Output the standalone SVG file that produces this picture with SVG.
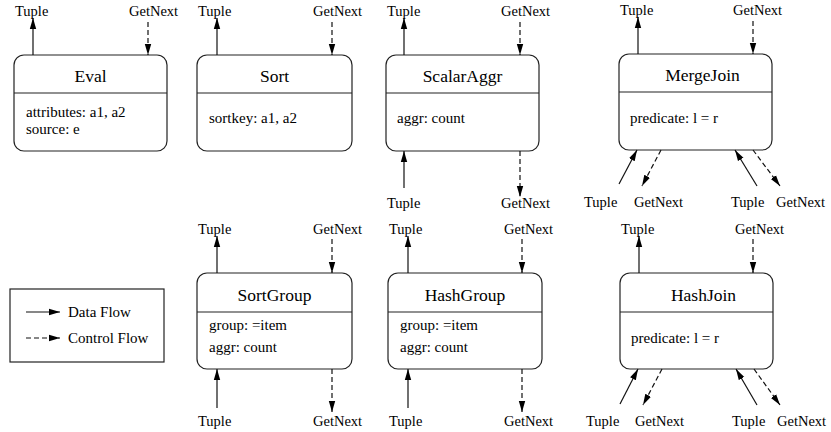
<svg xmlns="http://www.w3.org/2000/svg" width="831" height="432" viewBox="0 0 831 432">
  <style>
    text { font-family: "Liberation Serif", "Times New Roman", Times, "Nimbus Roman", "DejaVu Serif", serif; fill: #000; }
    .title { font-size: 17.5px; text-anchor: middle; }
    .body { font-size: 15px; }
    .lbl { font-size: 14.5px; }
    .box { fill: #fff; stroke: #222; stroke-width: 1.2; }
    .div { stroke: #222; stroke-width: 1.2; }
    .data { stroke: #111; stroke-width: 1.2; fill: none; marker-end: url(#head); }
    .ctrl { stroke: #111; stroke-width: 1.2; fill: none; stroke-dasharray: 5 3; marker-end: url(#head); }
  </style>
  <defs>
    <marker id="head" markerUnits="userSpaceOnUse" markerWidth="12" markerHeight="8" refX="11" refY="4" orient="auto">
      <path d="M0,0.8 L11,4 L0,7.2 Z" fill="#000"/>
    </marker>
  </defs>
  <rect width="831" height="432" fill="#fff"/>

  <!-- operators -->
  <g id="eval">
    <rect class="box" x="14" y="55" width="153" height="96" rx="10"/>
    <line class="div" x1="14" y1="93" x2="167" y2="93"/>
    <text class="title" x="90.5" y="82">Eval</text>
    <text class="body" x="26" y="117">attributes: a1, a2</text>
    <text class="body" x="26" y="134">source: e</text>
  </g>
  <g id="sort">
    <rect class="box" x="197" y="55" width="155" height="96" rx="10"/>
    <line class="div" x1="197" y1="93" x2="352" y2="93"/>
    <text class="title" x="274.5" y="82">Sort</text>
    <text class="body" x="209" y="123">sortkey: a1, a2</text>
  </g>
  <g id="scalaraggr">
    <rect class="box" x="386" y="55" width="153" height="96" rx="10"/>
    <line class="div" x1="386" y1="93" x2="539" y2="93"/>
    <text class="title" x="462.5" y="82">ScalarAggr</text>
    <text class="body" x="397" y="123">aggr: count</text>
  </g>
  <g id="mergejoin">
    <rect class="box" x="619" y="54" width="153" height="96" rx="10"/>
    <line class="div" x1="619" y1="92" x2="772" y2="92"/>
    <text class="title" x="702.5" y="81">MergeJoin</text>
    <text class="body" x="630" y="123">predicate: l = r</text>
  </g>
  <g id="sortgroup">
    <rect class="box" x="197" y="273" width="155" height="96" rx="10"/>
    <line class="div" x1="197" y1="312" x2="352" y2="312"/>
    <text class="title" x="274.5" y="301">SortGroup</text>
    <text class="body" x="209" y="330">group: =item</text>
    <text class="body" x="209" y="352">aggr: count</text>
  </g>
  <g id="hashgroup">
    <rect class="box" x="388" y="273" width="154" height="96" rx="10"/>
    <line class="div" x1="388" y1="312" x2="542" y2="312"/>
    <text class="title" x="465" y="301">HashGroup</text>
    <text class="body" x="400" y="330">group: =item</text>
    <text class="body" x="400" y="352">aggr: count</text>
  </g>
  <g id="hashjoin">
    <rect class="box" x="620" y="273" width="153" height="96" rx="10"/>
    <line class="div" x1="620" y1="312" x2="773" y2="312"/>
    <text class="title" x="703.5" y="301">HashJoin</text>
    <text class="body" x="631" y="343">predicate: l = r</text>
  </g>

  <!-- legend -->
  <g id="legend">
    <rect x="10" y="289" width="154" height="73" fill="#fff" stroke="#222" stroke-width="1.2"/>
    <line class="data" x1="26" y1="312" x2="60" y2="312"/>
    <text class="body" x="68" y="317">Data Flow</text>
    <line class="ctrl" x1="26" y1="338" x2="60" y2="338"/>
    <text class="body" x="68" y="343">Control Flow</text>
  </g>

  <!-- data and control flow connectors -->
  <g id="connectors">
    <!-- Eval -->
    <line class="data" x1="33" y1="55" x2="33" y2="18"/>
    <line class="ctrl" x1="148" y1="22" x2="148" y2="55"/>
    <!-- Sort -->
    <line class="data" x1="217" y1="55" x2="217" y2="18"/>
    <line class="ctrl" x1="332" y1="22" x2="332" y2="55"/>
    <!-- ScalarAggr -->
    <line class="data" x1="404" y1="55" x2="404" y2="18"/>
    <line class="ctrl" x1="520" y1="22" x2="520" y2="55"/>
    <line class="data" x1="404" y1="188" x2="404" y2="151"/>
    <line class="ctrl" x1="520" y1="151" x2="520" y2="197"/>
    <!-- MergeJoin -->
    <line class="data" x1="638" y1="54" x2="638" y2="17"/>
    <line class="ctrl" x1="753" y1="21" x2="753" y2="54"/>
    <line class="data" x1="619" y1="184" x2="637" y2="150"/>
    <line class="ctrl" x1="661" y1="150" x2="642" y2="186"/>
    <line class="data" x1="757" y1="186" x2="735" y2="150"/>
    <line class="ctrl" x1="753" y1="150" x2="780" y2="186"/>
    <!-- SortGroup -->
    <line class="data" x1="217" y1="273" x2="217" y2="236"/>
    <line class="ctrl" x1="332" y1="239" x2="332" y2="273"/>
    <line class="data" x1="217" y1="408" x2="217" y2="369"/>
    <line class="ctrl" x1="332" y1="369" x2="332" y2="412"/>
    <!-- HashGroup -->
    <line class="data" x1="408" y1="273" x2="408" y2="236"/>
    <line class="ctrl" x1="522" y1="239" x2="522" y2="273"/>
    <line class="data" x1="408" y1="408" x2="408" y2="369"/>
    <line class="ctrl" x1="522" y1="369" x2="522" y2="412"/>
    <!-- HashJoin -->
    <line class="data" x1="639" y1="273" x2="639" y2="236"/>
    <line class="ctrl" x1="753" y1="239" x2="753" y2="273"/>
    <line class="data" x1="620" y1="404" x2="638" y2="369"/>
    <line class="ctrl" x1="662" y1="369" x2="643" y2="405"/>
    <line class="data" x1="757" y1="405" x2="736" y2="369"/>
    <line class="ctrl" x1="754" y1="369" x2="780" y2="405"/>
  </g>

  <!-- port labels -->
  <g id="labels">
    <text class="lbl" x="15" y="16">Tuple</text>
    <text class="lbl" x="129" y="16">GetNext</text>
    <text class="lbl" x="198" y="16">Tuple</text>
    <text class="lbl" x="313" y="16">GetNext</text>
    <text class="lbl" x="387" y="16">Tuple</text>
    <text class="lbl" x="501" y="16">GetNext</text>
    <text class="lbl" x="387" y="208">Tuple</text>
    <text class="lbl" x="501" y="208">GetNext</text>
    <text class="lbl" x="620" y="15">Tuple</text>
    <text class="lbl" x="733" y="15">GetNext</text>
    <text class="lbl" x="584" y="207">Tuple</text>
    <text class="lbl" x="634" y="207">GetNext</text>
    <text class="lbl" x="731" y="207">Tuple</text>
    <text class="lbl" x="776" y="207">GetNext</text>

    <text class="lbl" x="198" y="234">Tuple</text>
    <text class="lbl" x="313" y="234">GetNext</text>
    <text class="lbl" x="198" y="426">Tuple</text>
    <text class="lbl" x="313" y="426">GetNext</text>
    <text class="lbl" x="389" y="234">Tuple</text>
    <text class="lbl" x="504" y="234">GetNext</text>
    <text class="lbl" x="389" y="426">Tuple</text>
    <text class="lbl" x="504" y="426">GetNext</text>
    <text class="lbl" x="621" y="234">Tuple</text>
    <text class="lbl" x="735" y="234">GetNext</text>
    <text class="lbl" x="586" y="426">Tuple</text>
    <text class="lbl" x="635" y="426">GetNext</text>
    <text class="lbl" x="732" y="426">Tuple</text>
    <text class="lbl" x="777" y="426">GetNext</text>
  </g>
</svg>
